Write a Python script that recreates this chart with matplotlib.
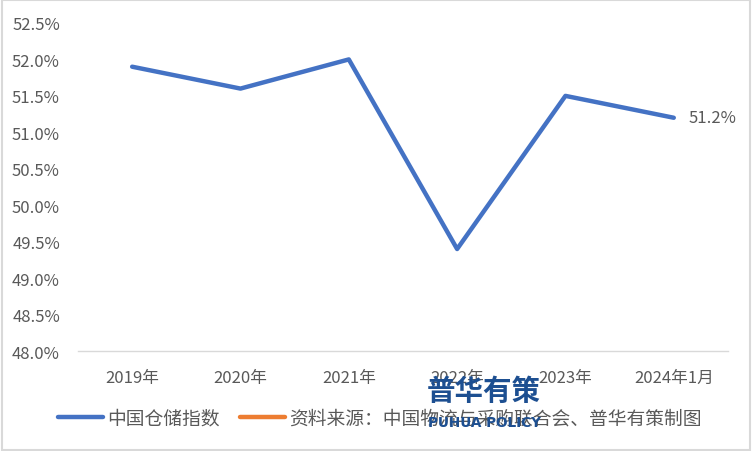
import matplotlib.pyplot as plt
from matplotlib.patches import Rectangle

plt.rcParams['font.family'] = ['Noto Sans CJK SC', 'DejaVu Sans']

# data
years = ['2019年', '2020年', '2021年', '2022年', '2023年', '2024年1月']
index_vals = [51.9, 51.6, 52.0, 49.4, 51.5, 51.2]
y_ticks = [48.0, 48.5, 49.0, 49.5, 50.0, 50.5, 51.0, 51.5, 52.0, 52.5]
series_name = '中国仓储指数'
source_note = '资料来源：中国物流与采购联合会、普华有策制图'

blue = '#4472C4'
orange = '#ED7D31'
gray = '#595959'

fig = plt.figure(figsize=(7.52, 4.52), dpi=100)
ax = fig.add_axes([0.1037, 0.221, 0.8643, 0.726])

x = list(range(len(years)))
ax.plot(x, index_vals, color=blue, linewidth=3.2, solid_capstyle='round',
        label=series_name)
ax.plot([], [], color=orange, linewidth=3.2, solid_capstyle='round',
        label=source_note)

# last point label
ax.annotate(f'{index_vals[-1]:.1f}%', (x[-1], index_vals[-1]),
            xytext=(11, 0), textcoords='offset points', va='center',
            ha='left', fontsize=12, color=gray)

ax.set_xlim(-0.5, len(years) - 0.5)
ax.set_ylim(48.0, 52.5)
ax.set_yticks(y_ticks)
ax.set_yticklabels([f'{v:.1f}%' for v in y_ticks])
ax.set_xticks(x)
ax.set_xticklabels(years)
ax.tick_params(axis='both', length=0, labelsize=12, labelcolor=gray)
ax.tick_params(axis='y', pad=13)
ax.tick_params(axis='x', pad=13)

for side in ['top', 'right', 'left']:
    ax.spines[side].set_visible(False)
ax.spines['bottom'].set_color('#d9d9d9')
ax.spines['bottom'].set_linewidth(1)

leg = fig.legend(loc='center', bbox_to_anchor=(0.505, 1 - 419 / 452), ncol=2,
                 frameon=False, fontsize=13.5, handlelength=2.4,
                 handletextpad=0.2, columnspacing=1.1)
for t in leg.get_texts():
    t.set_color(gray)

# watermark
fig.text(484 / 752, 1 - 392 / 452, '普华有策', ha='center', va='center',
         fontsize=20.5, fontweight='bold', color='#1d4f91', zorder=10)
fig.text(484 / 752, 1 - 423 / 452, 'PUHUA POLICY', ha='center', va='center',
         fontsize=9.8, fontweight='bold', color='#1d4f91', zorder=10,
         family=['DejaVu Sans'])

# outer border
fig.patches.append(Rectangle((0.002, 0.003), 0.996, 0.994, transform=fig.transFigure,
                             fill=False, edgecolor='#d9d9d9', linewidth=1.5))

fig.savefig('out.png', dpi=100)
